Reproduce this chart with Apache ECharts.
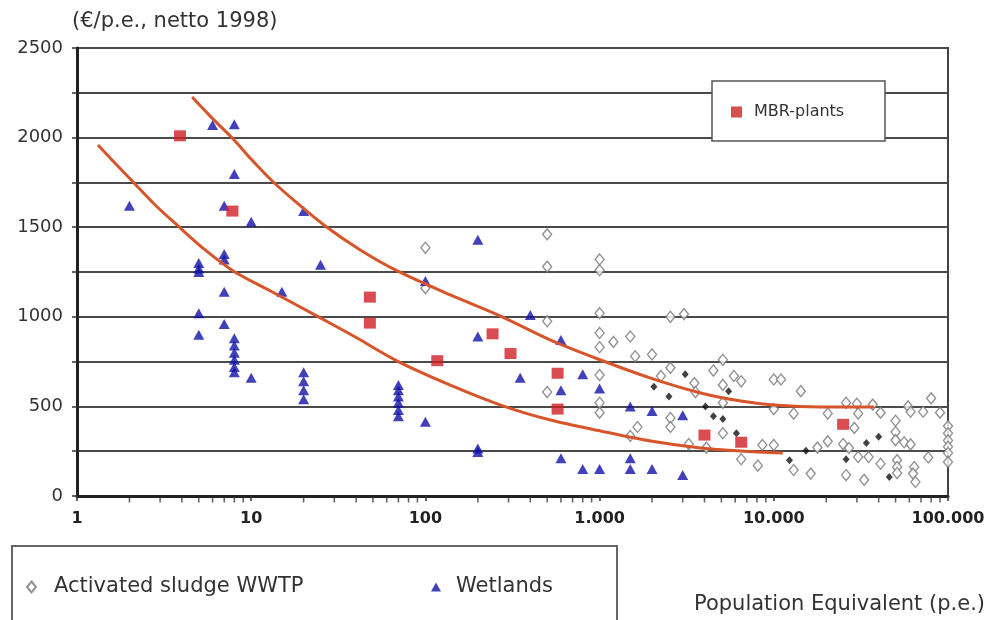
<!DOCTYPE html>
<html>
<head>
<meta charset="utf-8">
<script src="https://cdn.jsdelivr.net/npm/echarts@6/dist/echarts.min.js"></script>
<style>html,body{margin:0;padding:0;background:#fff;}#c{width:988px;height:620px;}</style>
</head>
<body>
<div id="c"></div>
<script>
// ---- data: [population equivalent, cost €/p.e.] ----
const xTickLabels = ['1', '10', '100', '1.000', '10.000', '100.000'];
const yTickValues = [0, 500, 1000, 1500, 2000, 2500];

const wetlandData = [
  [2,1620],[5,1300],[5,1270],[5,1250],[5,1020],[5,900],[6,2070],[7,1620],[7,1350],[7,1320],[7,1140],[7,960],
  [8,2075],[8,1797],[8,880],[8,840],[8,800],[8,760],[8,720],[8,690],[10,1530],[10,660],[15,1140],
  [20,1590],[20,690],[20,640],[20,590],[20,540],[25,1290],
  [70,620],[70,590],[70,555],[70,520],[70,480],[70,445],[100,1200],[100,415],
  [200,1430],[200,890],[200,265],[200,245],[350,660],[400,1010],[600,870],[600,590],[600,210],
  [800,680],[800,150],[1000,600],[1000,150],[1500,500],[1500,210],[1500,150],[2000,475],[2000,150],
  [3000,450],[3000,117]
];

const mbrData = [
  [3.9,2010],[7.8,1590],[48,1110],[48,965],[117,755],[243,905],[308,795],[574,685],[574,485],
  [4000,340],[6500,300],[25000,400]
];

const sludgeData = [
  [100,1385],[100,1160],[500,1460],[500,1280],[500,975],[500,580],
  [1000,1320],[1000,1260],[1000,1020],[1000,910],[1000,830],[1000,675],[1000,520],[1000,465],
  [1200,860],[1500,890],[1600,780],[1650,385],[1500,335],
  [2000,790],[2550,1000],[3050,1015],[2550,715],[2250,670],[2550,435],[2550,385],
  [3500,630],[3550,580],[4500,700],[5100,760],[5900,670],[6500,640],[5100,620],[5100,520],[5100,350],
  [3250,290],[4100,270],[6500,205],[8100,170],[8600,285],[10000,285],[10000,650],[11000,650],[10000,485],
  [14300,585],[13000,460],[13000,145],[16300,125],[17800,270],[20400,305],[20400,460],
  [26000,520],[25000,290],[26000,117],[27000,268],[29000,380],[30000,515],[30500,460],[33000,90],
  [30500,218],[35000,218],[37000,510],[41000,465],[41000,180],
  [50000,420],[50000,357],[50000,312],[51000,200],[51000,162],[51000,128],
  [59000,500],[61000,470],[56000,300],[61000,288],[64000,162],[63000,125],[65000,78],
  [72000,470],[77000,215],[80000,545],[90000,465],
  [100000,390],[100000,350],[100000,310],[100000,275],[100000,240],[100000,190]
];

const otherData = [
  [2050,610],[2500,555],[3100,680],[4050,500],[4500,445],[5100,430],[5500,585],[6100,350],
  [12300,200],[15300,252],[26000,205],[34000,296],[40000,330],[46000,106]
];

const upperCurve = [
  [4.58,2226],[5.81,2120],[7.88,1992],[10.1,1875],[13.2,1758],[18.6,1630],[26.6,1507],[42.3,1373],
  [69,1256],[139,1122],[270,1004],[523,870],[1013,759],[1963,658],[3804,575],[6460,530],
  [10000,508],[18600,497],[37600,497]
];
const lowerCurve = [
  [1.32,1959],[1.65,1858],[2.10,1752],[2.81,1624],[3.80,1507],[5.44,1373],[7.88,1256],[12.9,1144],
  [23.9,1004],[39.6,887],[69,753],[139,619],[281,502],[523,424],[1013,363],[1963,307],[3804,268],
  [6460,251],[11270,240]
];

// minor log ticks on the x axis (2..9 of each decade)
const minorTicks = [];
for (let n = 0; n < 5; n++) {
  for (let k = 2; k <= 9; k++) minorTicks.push([k * Math.pow(10, n), 0]);
}

const FONT = 'DejaVu Sans';
const chart = echarts.init(document.getElementById('c'), null, {renderer: 'canvas'});

chart.setOption({
  backgroundColor: '#ffffff',
  animation: false,
  grid: {left: 77, right: 40, top: 48, bottom: 124, show: true, borderColor: '#444', borderWidth: 2, backgroundColor: 'transparent'},
  xAxis: {
    type: 'log', logBase: 10, min: 1, max: 100000,
    name: 'Population Equivalent (p.e.)',
    nameLocation: 'end', nameGap: 37,
    nameTextStyle: {fontFamily: FONT, fontSize: 21, color: '#333', align: 'right', verticalAlign: 'top', padding: [98, 0, 0, 0]},
    axisLine: {show: true, lineStyle: {color: '#222', width: 3}},
    axisTick: {show: true, length: 5, lineStyle: {color: '#333', width: 1.5}},
    splitLine: {show: false},
    axisLabel: {
      margin: 15, fontFamily: FONT, fontSize: 16, fontWeight: 'bold', color: '#222',
      formatter: v => xTickLabels[Math.round(Math.log10(v))]
    }
  },
  yAxis: {
    type: 'value', min: 0, max: 2500, interval: 250,
    name: '(€/p.e., netto 1998)',
    nameLocation: 'end', nameGap: 16,
    nameTextStyle: {fontFamily: FONT, fontSize: 21, color: '#333', align: 'left', verticalAlign: 'bottom', padding: [0, 0, 0, -5]},
    axisLine: {show: true, lineStyle: {color: '#222', width: 3}},
    axisTick: {show: true, length: 5, lineStyle: {color: '#333', width: 1.5}},
    splitLine: {show: true, lineStyle: {color: '#4a4a4a', width: 2}},
    axisLabel: {
      margin: 14, fontFamily: FONT, fontSize: 18, color: '#333',
      formatter: v => (yTickValues.indexOf(v) >= 0 ? String(v) : '')
    }
  },
  legend: [
    {data: ['Activated sludge WWTP'], left: 26, top: 575, padding: 0, itemWidth: 9, itemHeight: 11, selectedMode: false,
     textStyle: {fontFamily: FONT, fontSize: 21, color: '#333', lineHeight: 24, padding: [0, 0, 0, 13]}},
    {data: ['Wetlands'], left: 431, top: 575, padding: 0, itemWidth: 10, itemHeight: 9, selectedMode: false,
     textStyle: {fontFamily: FONT, fontSize: 21, color: '#333', lineHeight: 24, padding: [0, 0, 0, 10]}},
    {data: ['MBR-plants'], left: 731, top: 102, padding: 0, itemWidth: 11, itemHeight: 11, selectedMode: false, z: 10,
     textStyle: {fontFamily: FONT, fontSize: 16, color: '#333', lineHeight: 20, padding: [0, 0, 0, 7]}}
  ],
  graphic: [
    {type: 'rect', z: 3, shape: {x: 12, y: 546, width: 605, height: 90}, style: {fill: '#fff', stroke: '#666', lineWidth: 2}},
    {type: 'rect', z: 3, shape: {x: 712, y: 81, width: 173, height: 60}, style: {fill: '#fff', stroke: '#555', lineWidth: 1.5}}
  ],
  series: [
    {name: 'minor', type: 'scatter', data: minorTicks, symbol: 'rect', symbolSize: [1.5, 5], symbolOffset: [0, 4],
     itemStyle: {color: '#333'}, clip: false, silent: true, z: 1},
    {name: 'Activated sludge WWTP', type: 'scatter', data: sludgeData, symbol: 'diamond', symbolSize: [9, 11],
     itemStyle: {color: '#fff', borderColor: '#777', borderWidth: 1.4}, z: 3},
    {name: 'other', type: 'scatter', data: otherData, symbol: 'diamond', symbolSize: [7, 8],
     itemStyle: {color: '#111'}, z: 3},
    {name: 'Wetlands', type: 'scatter', data: wetlandData, symbol: 'triangle', symbolSize: [11, 10],
     itemStyle: {color: '#1212a8'}, z: 4},
    {name: 'MBR-plants', type: 'scatter', data: mbrData, symbol: 'rect', symbolSize: [12, 11],
     itemStyle: {color: '#cf1f26'}, z: 5},
    {name: 'upper', type: 'line', data: upperCurve, smooth: 0.3, showSymbol: false, symbol: 'none',
     lineStyle: {color: '#d6552a', width: 3}, z: 6, silent: true},
    {name: 'lower', type: 'line', data: lowerCurve, smooth: 0.3, showSymbol: false, symbol: 'none',
     lineStyle: {color: '#d6552a', width: 3}, z: 6, silent: true}
  ]
});
</script>
</body>
</html>
